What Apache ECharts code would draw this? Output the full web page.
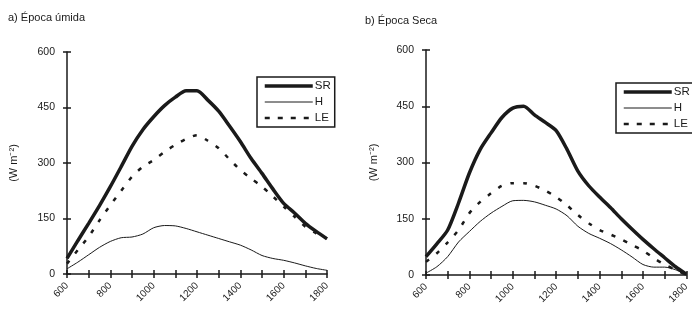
<!DOCTYPE html>
<html>
<head>
<meta charset="utf-8">
<script src="https://cdn.jsdelivr.net/npm/echarts@6/dist/echarts.min.js"></script>
<style>
  html, body { margin: 0; padding: 0; background: #fff; }
  #chart { width: 692px; height: 320px; }
</style>
</head>
<body>
<div id="chart"></div>
<script>
// hora do dia (HHMM)
const hours = [600, 650, 700, 750, 800, 850, 900, 950, 1000, 1050, 1100, 1150, 1200,
               1250, 1300, 1350, 1400, 1450, 1500, 1550, 1600, 1650, 1700, 1750, 1800];

// a) Época úmida
const wetSR = [42, 90, 137, 185, 236, 290, 345, 390, 425, 455, 478, 495, 495,
               470, 440, 400, 358, 312, 272, 230, 191, 165, 137, 115, 95];
const wetH  = [14, 32, 52, 72, 88, 98, 100, 108, 125, 131, 130, 123, 114,
               105, 96, 87, 78, 65, 50, 42, 37, 30, 22, 15, 10];
const wetLE = [28, 65, 101, 145, 186, 225, 263, 290, 308, 330, 349, 365, 375,
               360, 340, 310, 281, 258, 236, 210, 182, 155, 128, 110, 96];

// b) Época Seca
const drySR = [49, 83, 120, 192, 272, 335, 379, 420, 445, 450, 427, 407, 385,
               335, 277, 238, 208, 180, 150, 122, 95, 70, 46, 22, 2];
const dryH  = [5, 22, 49, 88, 116, 143, 165, 183, 198, 199, 195, 186, 176,
               158, 130, 111, 98, 84, 67, 48, 28, 21, 21, 14, 0];
const dryLE = [35, 58, 87, 120, 165, 195, 218, 238, 245, 245, 238, 225, 208,
               186, 160, 138, 120, 108, 95, 80, 65, 45, 28, 14, 0];

const yTicks = [0, 150, 300, 450, 600];
const xLabels = [600, 800, 1000, 1200, 1400, 1600, 1800];
const seriesNames = ['SR', 'H', 'LE'];

const FONT = 'Liberation Sans, Arial, sans-serif';
const INK = '#1a1a1a';

const pairs = vals => hours.map((h, i) => [h, vals[i]]);

// estilo de cada curva
const styles = {
  SR: { width: 3.5, type: 'solid' },
  H:  { width: 1,   type: 'solid' },
  LE: { width: 2.5, type: [4, 9] }
};

function mainX(gridIndex) {
  return {
    type: 'value', gridIndex, position: 'bottom', min: 600, max: 1800, interval: 100,
    axisLine: { lineStyle: { color: INK, width: 1.5 } },
    axisTick: { length: 4, lineStyle: { color: INK, width: 1.5 } },
    axisLabel: {
      rotate: 45, margin: 10, fontSize: 10, color: INK, fontFamily: FONT,
      formatter: v => xLabels.includes(v) ? String(v) : ''
    },
    splitLine: { show: false }
  };
}
function innerX(gridIndex) {
  return {
    type: 'value', gridIndex, position: 'bottom', min: 600, max: 1800, interval: 100,
    axisLine: { show: false },
    axisTick: { inside: true, length: 4, lineStyle: { color: INK, width: 1.5 } },
    axisLabel: { show: false },
    splitLine: { show: false }
  };
}
function mainY(gridIndex, gap) {
  return {
    type: 'value', gridIndex, position: 'left', min: yTicks[0], max: yTicks[yTicks.length - 1], interval: 150,
    name: '(W m⁻²)', nameLocation: 'middle', nameGap: gap, nameRotate: 90,
    nameTextStyle: { fontSize: 11, color: INK, fontFamily: FONT },
    axisLine: { show: true, lineStyle: { color: INK, width: 1.5 } },
    axisTick: { show: true, length: 4, lineStyle: { color: INK, width: 1.5 } },
    axisLabel: { margin: 12, fontSize: 10.5, color: INK, fontFamily: FONT },
    splitLine: { show: false }
  };
}
function innerY(gridIndex) {
  return {
    type: 'value', gridIndex, position: 'left', min: 0, max: 600, interval: 150,
    axisLine: { show: false },
    axisTick: { show: true, inside: true, length: 4, lineStyle: { color: INK, width: 1.5 } },
    axisLabel: { show: false },
    splitLine: { show: false }
  };
}
function line(name, vals, axisIndex) {
  return {
    name, type: 'line', xAxisIndex: axisIndex, yAxisIndex: axisIndex,
    data: pairs(vals), showSymbol: false, symbol: 'none', smooth: 0.25,
    lineStyle: { color: INK, width: styles[name].width, type: styles[name].type },
    itemStyle: { color: INK },
    silent: true, z: 5
  };
}
function legend(left, top) {
  return {
    data: seriesNames.map(name => ({
      name,
      lineStyle: { color: INK, width: styles[name].width, type: name === 'LE' ? [5, 8] : 'solid' }
    })),
    orient: 'vertical', left, top,
    itemWidth: 48, itemHeight: 12, itemGap: 4,
    padding: [3, 4, 3, 6],
    itemStyle: { opacity: 0 },
    borderColor: INK, borderWidth: 1.5, borderRadius: 0,
    backgroundColor: '#fff',
    textStyle: { fontSize: 11.5, color: INK, fontFamily: FONT, padding: [0, 0, 0, -3] },
    selectedMode: false
  };
}

const chart = echarts.init(document.getElementById('chart'));
chart.setOption({
  backgroundColor: '#fff',
  animation: false,
  title: [
    { text: 'a) Época úmida', left: 3, top: 7, textStyle: { fontSize: 11, fontWeight: 'normal', color: INK, fontFamily: FONT } },
    { text: 'b) Época Seca', left: 360, top: 10, textStyle: { fontSize: 11, fontWeight: 'normal', color: INK, fontFamily: FONT } }
  ],
  grid: [
    { left: 67, top: 52, width: 260, height: 222 },
    { left: 426, top: 50, width: 262, height: 225 }
  ],
  xAxis: [mainX(0), innerX(0), mainX(1), innerX(1)],
  yAxis: [mainY(0, 48), innerY(0), mainY(1, 47), innerY(1)],
  legend: [legend(257, 77), legend(616, 83)],
  series: [
    line('SR', wetSR, 0), line('H', wetH, 0), line('LE', wetLE, 0),
    line('SR', drySR, 2), line('H', dryH, 2), line('LE', dryLE, 2)
  ]
});
</script>
</body>
</html>
